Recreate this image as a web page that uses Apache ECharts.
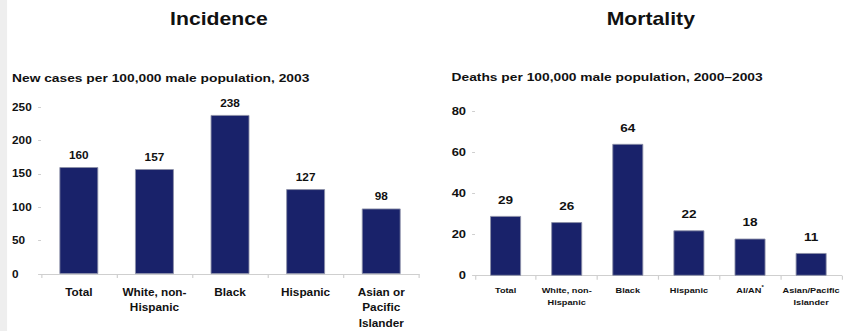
<!DOCTYPE html>
<html>
<head>
<meta charset="utf-8">
<script src="https://cdn.jsdelivr.net/npm/echarts@6/dist/echarts.min.js"></script>
<style>
  html, body { margin: 0; padding: 0; background: #ffffff; overflow: hidden; }
  /* The slide artwork uses horizontally widened lettering, so the chart is
     laid out on a narrower canvas and stretched to the full page width. */
  #chart { width: 715px; height: 331px; transform: scaleX(1.17902); transform-origin: 0 0; }
</style>
</head>
<body>
<div id="chart"></div>
<script>
// Incidence: new cases per 100,000 male population, 2003
const incidenceCategories = ['Total', 'White, non-\nHispanic', 'Black', 'Hispanic', 'Asian or\nPacific\nIslander'];
const incidenceValues = [160, 157, 238, 127, 98];
const incidenceTicks = { min: 0, max: 250, interval: 50 };

// Mortality: deaths per 100,000 male population, 2000–2003
const mortalityCategories = ['Total', 'White, non-\nHispanic', 'Black', 'Hispanic', 'AI/AN*', 'Asian/Pacific\nIslander'];
const mortalityValues = [29, 26, 64, 22, 18, 11];
const mortalityTicks = { min: 0, max: 80, interval: 20 };

const FONT = '"Liberation Sans", Arial, Helvetica, sans-serif';
const BAR = '#19226a';
const AXIS_GREY = '#cfcfcf';

const chart = echarts.init(document.getElementById('chart'), null, { renderer: 'svg' });

function textEl(text, x, y, size, align) {
  return {
    type: 'text',
    style: {
      text: text, x: x, y: y,
      fontFamily: FONT, fontWeight: 'bold', fontSize: size,
      fill: '#111111', textAlign: align, textVerticalAlign: 'middle'
    }
  };
}

const option = {
  backgroundColor: '#ffffff',
  animation: false,
  graphic: [
    { type: 'rect', shape: { x: 0, y: 0, width: 6, height: 331 }, style: { fill: '#eeeeee' } },
    textEl('Incidence', 185.7, 18.5, 18, 'center'),
    textEl('Mortality', 552, 18.5, 18, 'center'),
    textEl('New cases per 100,000 male population, 2003', 10.2, 77.7, 11.7, 'left'),
    textEl('Deaths per 100,000 male population, 2000\u20132003', 383, 77.3, 11.7, 'left')
  ],
  grid: [
    { left: 34.8, top: 107, width: 320.6, height: 169 },
    { left: 402.9, top: 111, width: 313.8, height: 164.7 }
  ],
  xAxis: [
    {
      type: 'category', gridIndex: 0, data: incidenceCategories,
      axisLine: { lineStyle: { color: AXIS_GREY, width: 1 } },
      axisTick: { show: true, length: 4, lineStyle: { color: AXIS_GREY } },
      axisLabel: {
        margin: 10.5, interval: 0, lineHeight: 15.5,
        fontFamily: FONT, fontWeight: 'bold', fontSize: 10, color: '#111111'
      }
    },
    {
      type: 'category', gridIndex: 1, data: mortalityCategories,
      axisLine: { lineStyle: { color: AXIS_GREY, width: 1 } },
      axisTick: { show: true, length: 4, lineStyle: { color: AXIS_GREY } },
      axisLabel: {
        margin: 9, interval: 0, lineHeight: 11.7,
        fontFamily: FONT, fontWeight: 'bold', fontSize: 7.8, color: '#111111',
        formatter: function (v) { return v.replace('*', '{sup|*}'); },
        rich: {
          sup: { fontFamily: FONT, fontWeight: 'bold', fontSize: 5, color: '#111111', verticalAlign: 'top', padding: [0, 0, 3, 0] }
        }
      }
    }
  ],
  yAxis: [
    {
      type: 'value', gridIndex: 0,
      min: incidenceTicks.min, max: incidenceTicks.max, interval: incidenceTicks.interval,
      axisLine: { show: false },
      axisTick: { show: true, length: 2.5, lineStyle: { color: AXIS_GREY } },
      splitLine: { show: false },
      axisLabel: {
        align: 'left', margin: 24.6,
        fontFamily: FONT, fontWeight: 'bold', fontSize: 10, color: '#111111'
      }
    },
    {
      type: 'value', gridIndex: 1,
      min: mortalityTicks.min, max: mortalityTicks.max, interval: mortalityTicks.interval,
      axisLine: { show: false },
      axisTick: { show: true, length: 2.5, lineStyle: { color: AXIS_GREY } },
      splitLine: { show: false },
      axisLabel: {
        align: 'right', margin: 7.6,
        fontFamily: FONT, fontWeight: 'bold', fontSize: 11, color: '#111111'
      }
    }
  ],
  series: [
    {
      type: 'bar', xAxisIndex: 0, yAxisIndex: 0, data: incidenceValues,
      barWidth: 33,
      itemStyle: { color: BAR, borderColor: '#8c90a8', borderWidth: 0.8 },
      label: {
        show: true, position: 'top', distance: 7,
        fontFamily: FONT, fontWeight: 'bold', fontSize: 10, color: '#111111'
      }
    },
    {
      type: 'bar', xAxisIndex: 1, yAxisIndex: 1, data: mortalityValues,
      barWidth: 26.3,
      itemStyle: { color: BAR, borderColor: '#8c90a8', borderWidth: 0.8 },
      label: {
        show: true, position: 'top', distance: 10,
        fontFamily: FONT, fontWeight: 'bold', fontSize: 11.5, color: '#111111'
      }
    }
  ]
};

chart.setOption(option);
</script>
</body>
</html>
